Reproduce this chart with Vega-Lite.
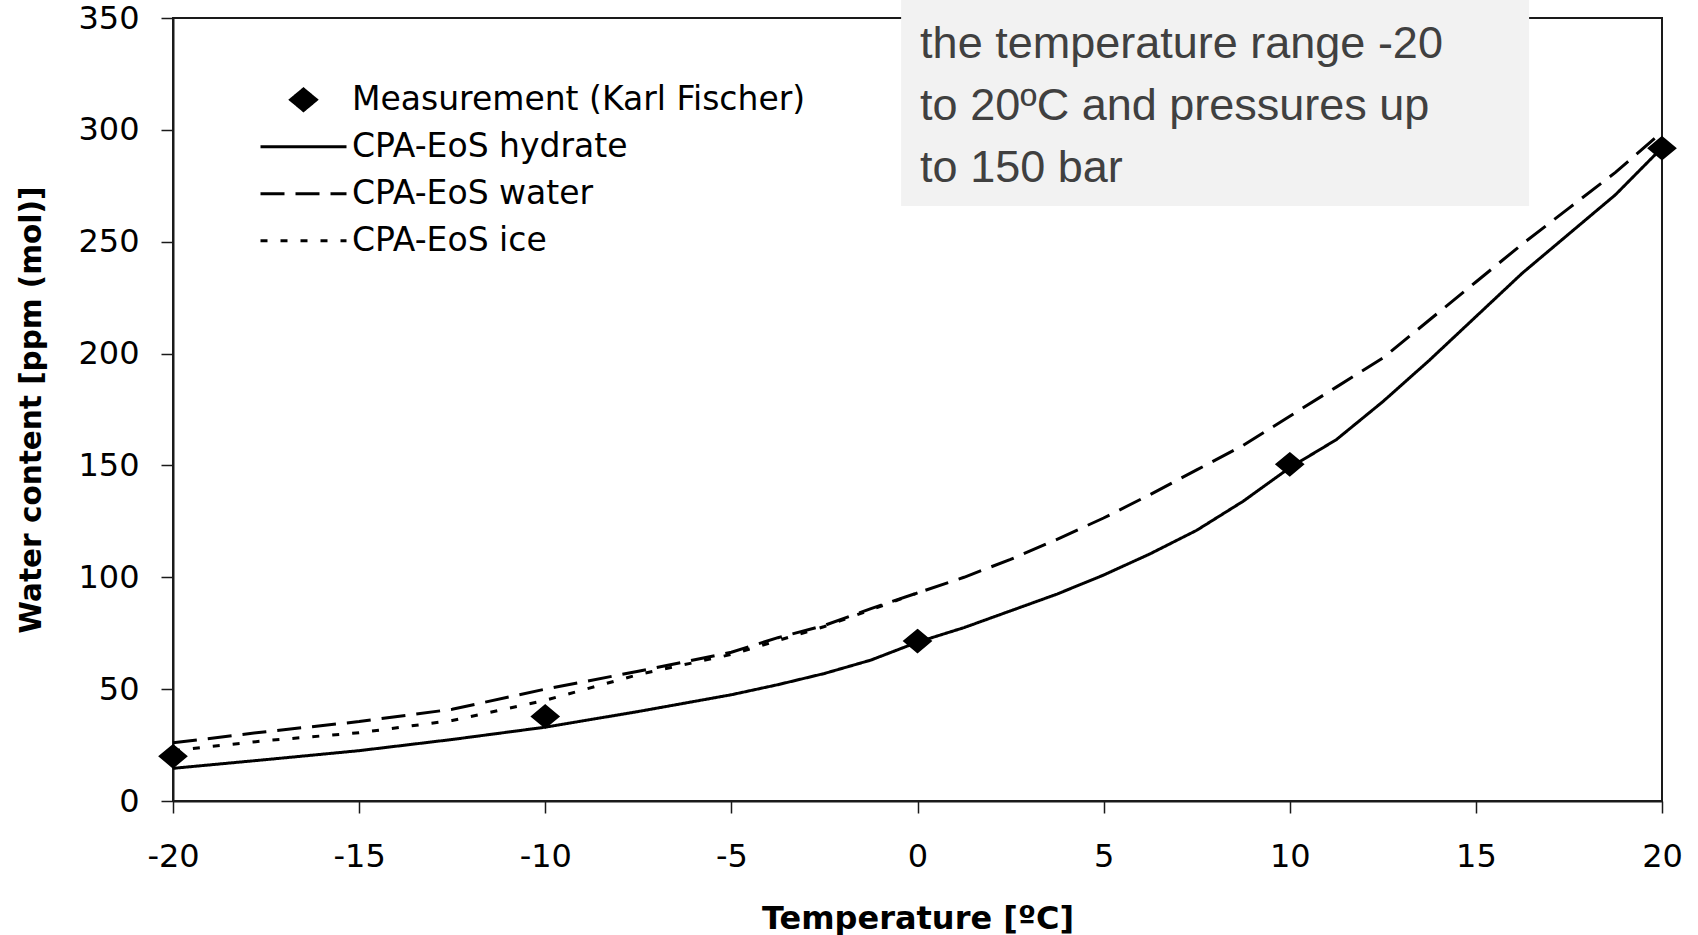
{
  "$schema": "https://vega.github.io/schema/vega-lite/v6.json",
  "width": 1489,
  "height": 783,
  "autosize": {"type": "none"},
  "padding": {"left": 173, "top": 18, "right": 36, "bottom": 134},
  "background": "white",
  "datasets": {
    "curves": [
      {"T": -20, "v": 14.6, "series": "CPA-EoS hydrate"},
      {"T": -17.5, "v": 18.5, "series": "CPA-EoS hydrate"},
      {"T": -15, "v": 22.5, "series": "CPA-EoS hydrate"},
      {"T": -12.5, "v": 27.5, "series": "CPA-EoS hydrate"},
      {"T": -10, "v": 33, "series": "CPA-EoS hydrate"},
      {"T": -7.5, "v": 40, "series": "CPA-EoS hydrate"},
      {"T": -5, "v": 47.5, "series": "CPA-EoS hydrate"},
      {"T": -3.75, "v": 52, "series": "CPA-EoS hydrate"},
      {"T": -2.5, "v": 57, "series": "CPA-EoS hydrate"},
      {"T": -1.25, "v": 63, "series": "CPA-EoS hydrate"},
      {"T": 0, "v": 71, "series": "CPA-EoS hydrate"},
      {"T": 1.25, "v": 77.5, "series": "CPA-EoS hydrate"},
      {"T": 2.5, "v": 85, "series": "CPA-EoS hydrate"},
      {"T": 3.75, "v": 92.5, "series": "CPA-EoS hydrate"},
      {"T": 5, "v": 101, "series": "CPA-EoS hydrate"},
      {"T": 6.25, "v": 110.5, "series": "CPA-EoS hydrate"},
      {"T": 7.5, "v": 121, "series": "CPA-EoS hydrate"},
      {"T": 8.75, "v": 134, "series": "CPA-EoS hydrate"},
      {"T": 10, "v": 149, "series": "CPA-EoS hydrate"},
      {"T": 11.25, "v": 161.5, "series": "CPA-EoS hydrate"},
      {"T": 12.5, "v": 178.5, "series": "CPA-EoS hydrate"},
      {"T": 13.75, "v": 197, "series": "CPA-EoS hydrate"},
      {"T": 15, "v": 216.5, "series": "CPA-EoS hydrate"},
      {"T": 16.25, "v": 236, "series": "CPA-EoS hydrate"},
      {"T": 17.5, "v": 253.5, "series": "CPA-EoS hydrate"},
      {"T": 18.75, "v": 271, "series": "CPA-EoS hydrate"},
      {"T": 20, "v": 292, "series": "CPA-EoS hydrate"},
      {"T": -20, "v": 26, "series": "CPA-EoS water"},
      {"T": -17.5, "v": 31, "series": "CPA-EoS water"},
      {"T": -15, "v": 35.5, "series": "CPA-EoS water"},
      {"T": -12.5, "v": 41, "series": "CPA-EoS water"},
      {"T": -10, "v": 50, "series": "CPA-EoS water"},
      {"T": -7.5, "v": 58, "series": "CPA-EoS water"},
      {"T": -5, "v": 66.5, "series": "CPA-EoS water"},
      {"T": -3.75, "v": 73, "series": "CPA-EoS water"},
      {"T": -2.5, "v": 78.5, "series": "CPA-EoS water"},
      {"T": -1.25, "v": 86, "series": "CPA-EoS water"},
      {"T": 0, "v": 93, "series": "CPA-EoS water"},
      {"T": 1.25, "v": 100, "series": "CPA-EoS water"},
      {"T": 2.5, "v": 108, "series": "CPA-EoS water"},
      {"T": 3.75, "v": 117, "series": "CPA-EoS water"},
      {"T": 5, "v": 126.5, "series": "CPA-EoS water"},
      {"T": 6.25, "v": 137, "series": "CPA-EoS water"},
      {"T": 7.5, "v": 148, "series": "CPA-EoS water"},
      {"T": 8.75, "v": 159, "series": "CPA-EoS water"},
      {"T": 10, "v": 172, "series": "CPA-EoS water"},
      {"T": 11.25, "v": 185, "series": "CPA-EoS water"},
      {"T": 12.5, "v": 198, "series": "CPA-EoS water"},
      {"T": 13.75, "v": 215, "series": "CPA-EoS water"},
      {"T": 15, "v": 232, "series": "CPA-EoS water"},
      {"T": 16.25, "v": 249, "series": "CPA-EoS water"},
      {"T": 17.5, "v": 265, "series": "CPA-EoS water"},
      {"T": 18.75, "v": 281, "series": "CPA-EoS water"},
      {"T": 20, "v": 299, "series": "CPA-EoS water"},
      {"T": -20, "v": 22.5, "series": "CPA-EoS ice"},
      {"T": -17.5, "v": 27, "series": "CPA-EoS ice"},
      {"T": -15, "v": 30.5, "series": "CPA-EoS ice"},
      {"T": -12.5, "v": 36, "series": "CPA-EoS ice"},
      {"T": -10, "v": 45, "series": "CPA-EoS ice"},
      {"T": -7.5, "v": 56.5, "series": "CPA-EoS ice"},
      {"T": -5, "v": 65.5, "series": "CPA-EoS ice"},
      {"T": -2.5, "v": 78, "series": "CPA-EoS ice"},
      {"T": 0, "v": 93, "series": "CPA-EoS ice"}
    ],
    "meas": [
      {"T": -20, "v": 20, "series": "Measurement (Karl Fischer)"},
      {"T": -10, "v": 37.8, "series": "Measurement (Karl Fischer)"},
      {"T": 0, "v": 71.5, "series": "Measurement (Karl Fischer)"},
      {"T": 10, "v": 150.5, "series": "Measurement (Karl Fischer)"},
      {"T": 20, "v": 291.8, "series": "Measurement (Karl Fischer)"}
    ]
  },
  "layer": [
    {
      "data": {"values": [{"note": "the temperature range -20 to 20ºC and pressures up to 150 bar"}]},
      "mark": {"type": "rect", "fill": "#f2f2f2", "clip": false},
      "encoding": {
        "x": {"datum": -0.44, "type": "quantitative", "scale": {"domain": [-20, 20], "nice": false, "zero": false}},
        "x2": {"datum": 16.43},
        "y": {"datum": 358.1, "type": "quantitative", "scale": {"domain": [0, 350], "nice": false}},
        "y2": {"datum": 266}
      }
    },
    {
      "data": {"name": "curves"},
      "mark": {"type": "line", "color": "black", "strokeWidth": 3, "clip": false},
      "encoding": {
        "x": {
          "field": "T", "type": "quantitative",
          "scale": {"domain": [-20, 20], "nice": false, "zero": false},
          "axis": {
            "title": "Temperature [ºC]",
            "values": [-20, -15, -10, -5, 0, 5, 10, 15, 20],
            "labelExpr": "'' + datum.value",
            "tickSize": 12,
            "labelPadding": 28,
            "titlePadding": 31,
            "titleFontSize": 32
          }
        },
        "y": {
          "field": "v", "type": "quantitative",
          "scale": {"domain": [0, 350], "nice": false},
          "axis": {
            "title": "Water content [ppm (mol)]",
            "values": [0, 50, 100, 150, 200, 250, 300, 350],
            "labelExpr": "'' + datum.value",
            "tickSize": 12,
            "labelPadding": 22,
            "titlePadding": 31,
            "titleFontSize": 29.5
          }
        },
        "detail": {"field": "series"},
        "strokeDash": {
          "field": "series", "type": "nominal",
          "scale": {
            "domain": ["Measurement (Karl Fischer)", "CPA-EoS hydrate", "CPA-EoS water", "CPA-EoS ice"],
            "range": [[1, 0], [1, 0], [24, 11], [7, 13]]
          },
          "legend": {
            "title": null,
            "symbolStrokeColor": "black",
            "encode": {"symbols": {"update": {"stroke": {"value": "black"}, "strokeWidth": {"value": 3}}}}
          }
        }
      }
    },
    {
      "data": {"name": "meas"},
      "mark": {"type": "point", "filled": true, "color": "black", "stroke": "black", "strokeWidth": 2.5, "size": 7396, "opacity": 1, "clip": false},
      "encoding": {
        "x": {"field": "T", "type": "quantitative"},
        "y": {"field": "v", "type": "quantitative"},
        "shape": {
          "field": "series", "type": "nominal",
          "scale": {
            "domain": ["Measurement (Karl Fischer)", "CPA-EoS hydrate", "CPA-EoS water", "CPA-EoS ice"],
            "range": ["M0,-0.25L0.3,0L0,0.25L-0.3,0Z", "stroke", "stroke", "stroke"]
          },
          "legend": {
            "title": null,
            "symbolStrokeColor": "black",
            "encode": {"symbols": {"update": {"stroke": {"value": "black"}, "strokeWidth": {"value": 3}}}}
          }
        }
      }
    },
    {
      "data": {"values": [{"note": "the temperature range -20 to 20ºC and pressures up to 150 bar"}]},
      "mark": {
        "type": "text",
        "font": "Liberation Sans",
        "fontSize": 45,
        "lineHeight": 62,
        "align": "left",
        "baseline": "alphabetic",
        "color": "#404040",
        "clip": false,
        "text": ["the temperature range -20", "to 20ºC and pressures up", "to 150 bar"]
      },
      "encoding": {
        "x": {"datum": 0.07, "type": "quantitative"},
        "y": {"datum": 332.1, "type": "quantitative"}
      }
    }
  ],
  "config": {
    "view": {"stroke": "#1a1a1a", "strokeWidth": 2},
    "axis": {
      "grid": false,
      "domainColor": "#1a1a1a",
      "domainWidth": 2,
      "tickColor": "#1a1a1a",
      "tickWidth": 1.5,
      "labelFont": "DejaVu Sans",
      "labelFontSize": 32,
      "labelColor": "black",
      "labelFlush": false,
      "labelOverlap": false,
      "titleFont": "DejaVu Sans",
      "titleFontSize": 30,
      "titleFontWeight": "bold",
      "titleColor": "black"
    },
    "legend": {
      "orient": "none",
      "legendX": 86,
      "legendY": 58.5,
      "padding": 0,
      "labelFont": "DejaVu Sans",
      "labelFontSize": 33,
      "labelColor": "black",
      "labelOffset": 4,
      "symbolSize": 7396,
      "symbolStrokeWidth": 3,
      "symbolStrokeColor": "black",
      "symbolFillColor": "black",
      "clipHeight": 46.5,
      "rowPadding": 0,
      "labelLimit": 1000
    }
  }
}
